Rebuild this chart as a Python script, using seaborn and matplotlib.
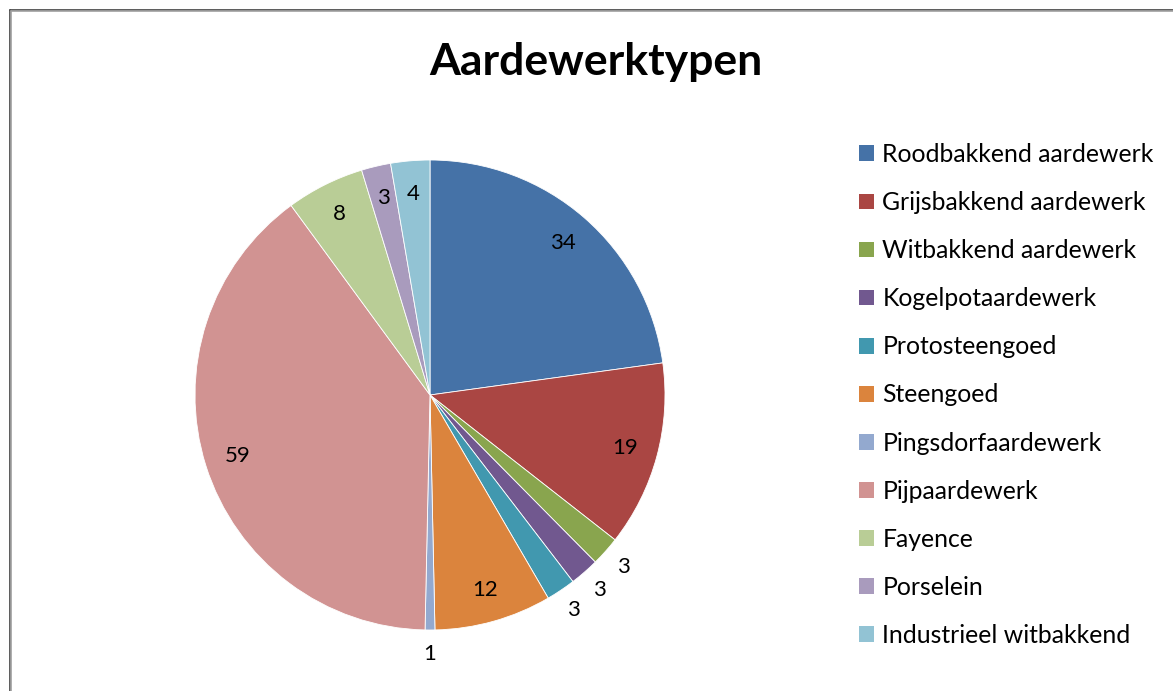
import numpy as np
import matplotlib
matplotlib.use("Agg")
import matplotlib.pyplot as plt
import matplotlib.patches as mpatches
import seaborn as sns

categories = ["Roodbakkend aardewerk", "Grijsbakkend aardewerk", "Witbakkend aardewerk",
              "Kogelpotaardewerk", "Protosteengoed", "Steengoed", "Pingsdorfaardewerk",
              "Pijpaardewerk", "Fayence", "Porselein", "Industrieel witbakkend"]
values = [34, 19, 3, 3, 3, 12, 1, 59, 8, 3, 4]
colors = ["#4572A7", "#AA4643", "#89A54E", "#71588F", "#4198AF", "#DB843D",
          "#93A9CF", "#D19392", "#B9CD96", "#A99BBD", "#92C3D4"]
title = "Aardewerktypen"
# label placement style (Excel "best fit"): which labels sit outside the pie
label_outside = [False, False, True, True, True, False, True, False, False, False, False]

sns.set_theme(style="white")
plt.rcParams['font.family'] = ['Lato', 'DejaVu Sans']
plt.rcParams['text.color'] = 'black'

W, H = 1173, 691
fig = plt.figure(figsize=(W / 100, H / 100), dpi=100)
fig.patch.set_facecolor("white")

cx, cy, r = 430, 395, 235
ax = fig.add_axes([(cx - r) / W, (H - cy - r) / H, 2 * r / W, 2 * r / H])
palette = sns.color_palette(colors)
wedges, _ = ax.pie(values, colors=palette, startangle=90, counterclock=False, radius=1,
                   wedgeprops=dict(edgecolor="white", linewidth=0.6))
ax.set_xlim(-1, 1)
ax.set_ylim(-1, 1)
ax.set_aspect("auto")
ax.axis("off")

for w, v, out in zip(wedges, values, label_outside):
    ang = np.deg2rad((w.theta1 + w.theta2) / 2)
    d = 1.1 if out else 0.86
    ax.text(d * np.cos(ang), d * np.sin(ang), str(v), ha="center", va="center",
            fontsize=16, color="black", clip_on=False)

fig.text(596 / W, 1 - 62 / H, title, ha="center", va="center", fontsize=32,
         fontweight="bold", color="black")

handles = [mpatches.Patch(facecolor=c, edgecolor="none") for c in palette]
leg = fig.legend(handles, categories, loc="upper left", bbox_to_anchor=(859 / W, 1 - 143 / H),
                 frameon=False, fontsize=17.8, labelspacing=1.015, handlelength=0.6,
                 handleheight=0.6, handletextpad=0.35, borderpad=0, borderaxespad=0)
for t in leg.get_texts():
    t.set_color("black")

# chart border
fig.add_artist(plt.Line2D([9.5 / W, 9.5 / W], [0, 1 - 9.5 / H], color="#404040", lw=1.2, transform=fig.transFigure))
fig.add_artist(plt.Line2D([9.5 / W, 1], [1 - 9.5 / H, 1 - 9.5 / H], color="#404040", lw=1.2, transform=fig.transFigure))
fig.add_artist(plt.Line2D([11 / W, 11 / W], [0, 1 - 11 / H], color="#a0a0a0", lw=1.2, transform=fig.transFigure))
fig.add_artist(plt.Line2D([11 / W, 1], [1 - 11 / H, 1 - 11 / H], color="#a0a0a0", lw=1.2, transform=fig.transFigure))

fig.savefig("out.png", dpi=100)
